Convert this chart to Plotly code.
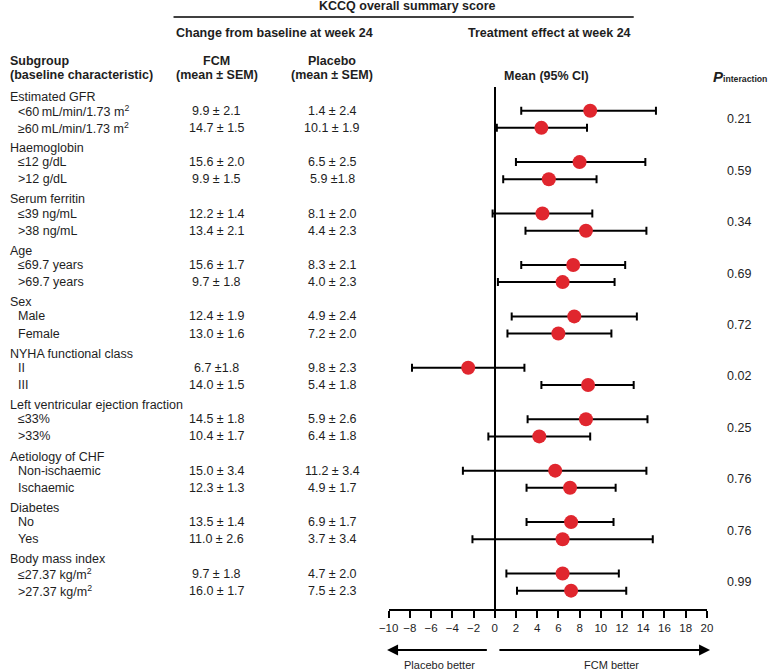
import plotly.graph_objects as go

# ---------------- data ----------------
groups = ["Estimated GFR", "Haemoglobin", "Serum ferritin", "Age", "Sex",
          "NYHA functional class", "Left ventricular ejection fraction",
          "Aetiology of CHF", "Diabetes", "Body mass index"]
subgroups = [
    "&lt;60\u2009mL/min/1.73 m<sup>2</sup>", "\u226560\u2009mL/min/1.73 m<sup>2</sup>",
    "\u226412 g/dL", "&gt;12 g/dL",
    "\u226439 ng/mL", "&gt;38 ng/mL",
    "\u226469.7 years", "&gt;69.7 years",
    "Male", "Female",
    "II", "III",
    "\u226433%", "&gt;33%",
    "Non-ischaemic", "Ischaemic",
    "No", "Yes",
    "\u226427.37 kg/m<sup>2</sup>", "&gt;27.37 kg/m<sup>2</sup>",
]
fcm_text = ["9.9 \u00b1 2.1", "14.7 \u00b1 1.5", "15.6 \u00b1 2.0", "9.9 \u00b1 1.5",
            "12.2 \u00b1 1.4", "13.4 \u00b1 2.1", "15.6 \u00b1 1.7", "9.7 \u00b1 1.8",
            "12.4 \u00b1 1.9", "13.0 \u00b1 1.6", "6.7 \u00b11.8", "14.0 \u00b1 1.5",
            "14.5 \u00b1 1.8", "10.4 \u00b1 1.7", "15.0 \u00b1 3.4", "12.3 \u00b1 1.3",
            "13.5 \u00b1 1.4", "11.0 \u00b1 2.6", "9.7 \u00b1 1.8", "16.0 \u00b1 1.7"]
placebo_text = ["1.4 \u00b1 2.4", "10.1 \u00b1 1.9", "6.5 \u00b1 2.5", "5.9 \u00b11.8",
                "8.1 \u00b1 2.0", "4.4 \u00b1 2.3", "8.3 \u00b1 2.1", "4.0 \u00b1 2.3",
                "4.9 \u00b1 2.4", "7.2 \u00b1 2.0", "9.8 \u00b1 2.3", "5.4 \u00b1 1.8",
                "5.9 \u00b1 2.6", "6.4 \u00b1 1.8", "11.2 \u00b1 3.4", "4.9 \u00b1 1.7",
                "6.9 \u00b1 1.7", "3.7 \u00b1 3.4", "4.7 \u00b1 2.0", "7.5 \u00b1 2.3"]
effect_mean = [9.0, 4.4, 8.0, 5.1, 4.5, 8.6, 7.4, 6.4, 7.5, 6.0,
               -2.5, 8.8, 8.6, 4.2, 5.7, 7.1, 7.2, 6.4, 6.4, 7.2]
ci_low = [2.5, 0.2, 2.0, 0.8, -0.2, 2.9, 2.5, 0.3, 1.6, 1.2,
          -7.8, 4.4, 3.1, -0.6, -3.0, 3.0, 3.0, -2.1, 1.1, 2.1]
ci_high = [15.2, 8.7, 14.2, 9.6, 9.2, 14.3, 12.3, 11.3, 13.4, 11.0,
           2.8, 13.1, 14.4, 9.0, 14.3, 11.4, 11.2, 14.9, 11.7, 12.4]
p_interaction = ["0.21", "0.59", "0.34", "0.69", "0.72",
                 "0.02", "0.25", "0.76", "0.76", "0.99"]
x_ticks = list(range(-10, 21, 2))

# ---------------- layout helpers ----------------
W, H = 768, 672
FONT = "Liberation Sans, Arial, Helvetica, sans-serif"
TXT = "#1e1e1e"
RED = "#E0262E"

def px_x(p):
    return p / W

def px_y(p):
    return 1 - p / H

# row index: group g header at 3g, its subgroups at 3g+1, 3g+2
sub_rows = []
for g in range(len(groups)):
    sub_rows += [3 * g + 1, 3 * g + 2]

fig = go.Figure()
fig.add_trace(go.Scatter(
    x=effect_mean, y=sub_rows, mode="markers",
    marker=dict(size=14, color=RED, line=dict(width=0)),
    error_x=dict(type="data", symmetric=False,
                 array=[h - m for h, m in zip(ci_high, effect_mean)],
                 arrayminus=[m - l for m, l in zip(effect_mean, ci_low)],
                 color="black", thickness=2, width=4),
    showlegend=False, hoverinfo="skip", cliponaxis=False,
))

ann = []

def text(x, y, s, size=12.5, bold=False, xanchor="center", xref="paper", yref="paper",
         yshift=0, italic=False):
    if bold:
        s = "<b>%s</b>" % s
    if italic:
        s = "<i>%s</i>" % s
    ann.append(dict(x=x, y=y, xref=xref, yref=yref, text=s,
                    showarrow=False, xanchor=xanchor, yanchor="middle", yshift=yshift,
                    borderpad=0, borderwidth=0,
                    font=dict(family=FONT, size=size, color=TXT)))

# top headers
text(px_x(406), px_y(6), "KCCQ overall summary score", bold=True)
text(px_x(270), px_y(33), "Change from baseline at week 24", bold=True)
text(px_x(551), px_y(33), "Treatment effect at week 24", bold=True)
text(0, px_y(61), "Subgroup", bold=True, xanchor="left")
text(0, px_y(75), "(baseline characteristic)", bold=True, xanchor="left")
text(px_x(211), px_y(61), "FCM", bold=True)
text(px_x(211), px_y(75), "(mean \u00b1 SEM)", bold=True)
text(px_x(329), px_y(61), "Placebo", bold=True)
text(px_x(329), px_y(75), "(mean \u00b1 SEM)", bold=True)
text(px_x(547.5), px_y(76), "Mean (95% CI)", bold=True)
text(px_x(718), px_y(76), "P", size=15, bold=True, italic=True, xanchor="left")
text(px_x(728), px_y(79), "interaction", size=8.7, bold=True, xanchor="left")

# table rows
for g, name in enumerate(groups):
    text(0, 3 * g, name, xanchor="left", yref="y", yshift=-3)
    text(px_x(744), 3 * g + 1.5, p_interaction[g], yref="y")
for i, r in enumerate(sub_rows):
    text(px_x(8), r, subgroups[i], xanchor="left", yref="y")
    text(px_x(211), r, fcm_text[i], yref="y")
    text(px_x(329), r, placebo_text[i], yref="y")

# bottom arrows and labels
ann.append(dict(x=-10.15, y=px_y(650), xref="x", yref="paper", ax=-0.6, ay=0,
                axref="x", ayref="pixel", text="", showarrow=True,
                arrowhead=2, arrowsize=1.1, arrowwidth=2, arrowcolor="black"))
ann.append(dict(x=20.3, y=px_y(650), xref="x", yref="paper", ax=0.3, ay=0,
                axref="x", ayref="pixel", text="", showarrow=True,
                arrowhead=2, arrowsize=1.1, arrowwidth=2, arrowcolor="black"))
text(-5.2, px_y(665), "Placebo better", size=11, xref="x")
text(11.0, px_y(665), "FCM better", size=11, xref="x")

shapes = [dict(type="line", xref="paper", yref="paper", x0=px_x(167), x1=px_x(637),
               y0=px_y(17), y1=px_y(17), line=dict(color="black", width=1.5))]

top_k, bot_k = -0.4, 30.07
fig.update_layout(
    width=W, height=H, margin=dict(l=0, r=0, t=0, b=0),
    paper_bgcolor="white", plot_bgcolor="white",
    annotations=ann, shapes=shapes,
    xaxis=dict(domain=[px_x(386.7), px_x(711.7)], range=[-10, 20],
               tickvals=x_ticks, ticks="outside", ticklen=7, tickwidth=2,
               tickcolor="black", showline=True, linecolor="black", linewidth=2,
               showgrid=False, zeroline=True, zerolinecolor="black", zerolinewidth=2,
               tickfont=dict(family=FONT, size=11.5, color=TXT), fixedrange=True),
    yaxis=dict(domain=[px_y(609), px_y(86.7)], range=[bot_k, top_k],
               visible=False, showgrid=False, zeroline=False, fixedrange=True),
)

fig.write_html("out.html", config={"displayModeBar": False},
               post_script="document.body.style.margin='0';document.body.style.overflow='hidden';")
